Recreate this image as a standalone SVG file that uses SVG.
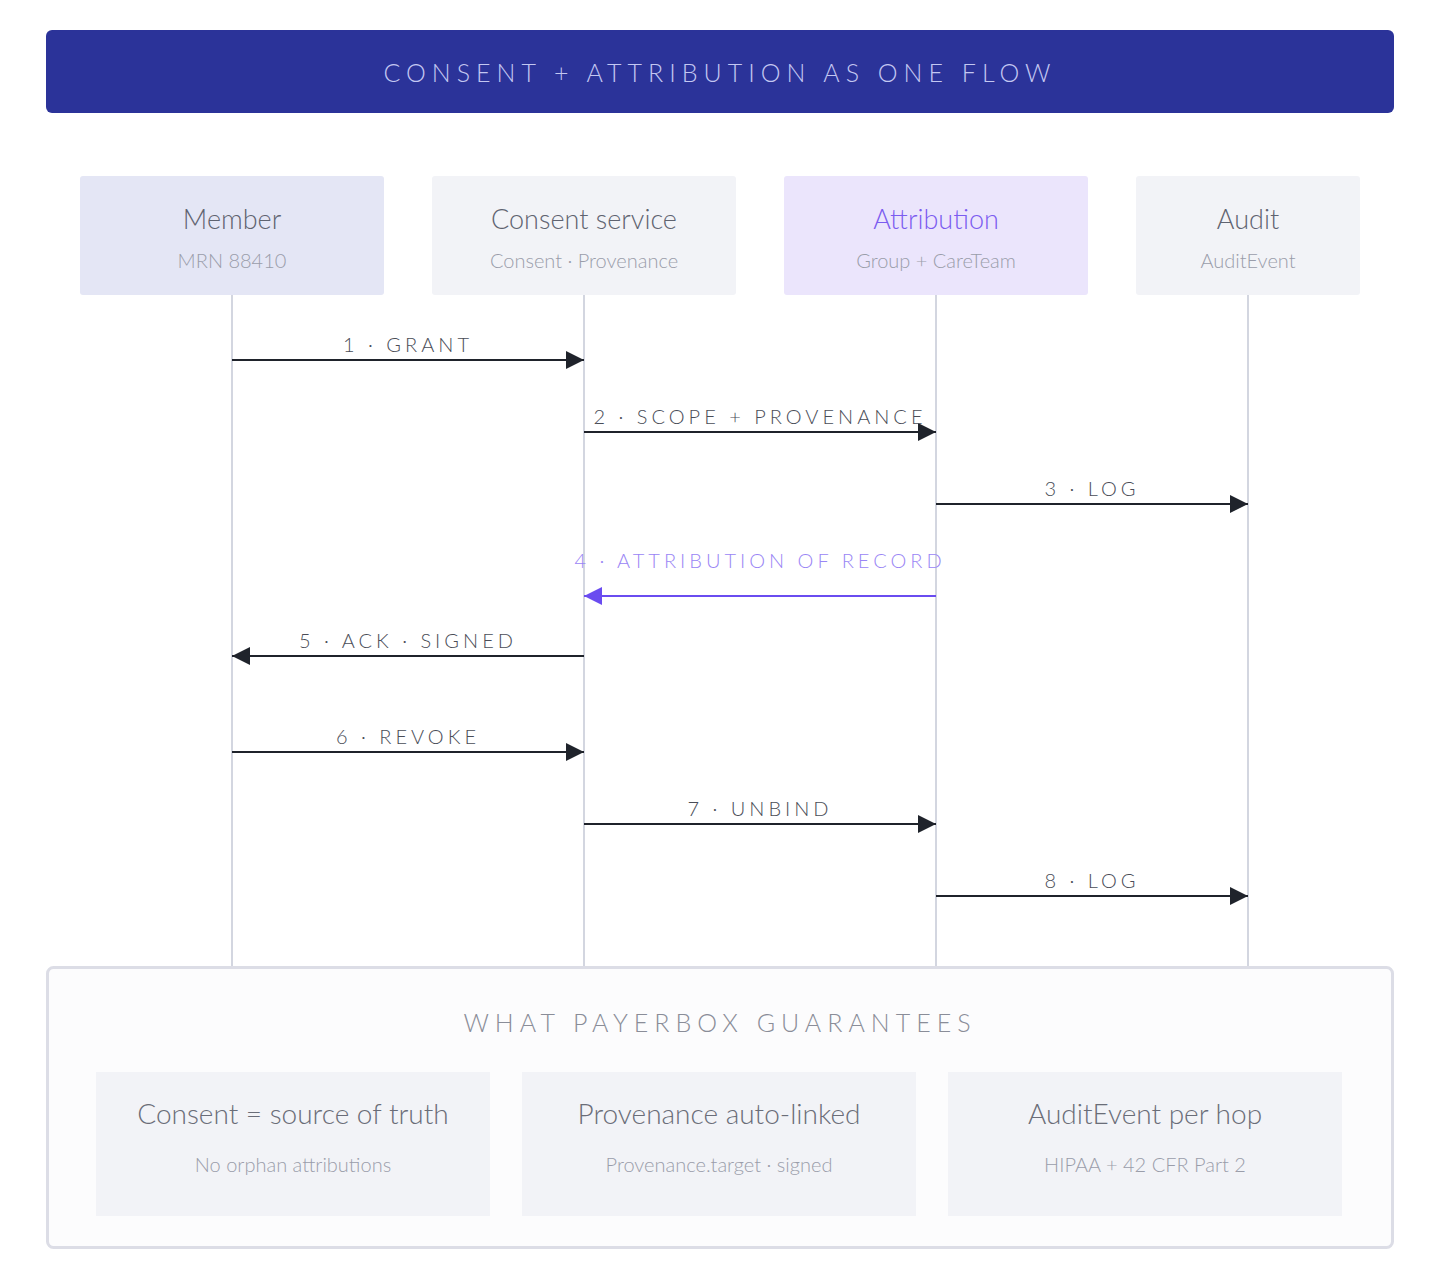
<svg xmlns="http://www.w3.org/2000/svg" width="1440" height="1280" viewBox="0 0 1440 1280">
<style>
text{font-family:Lato,"Open Sans","Liberation Sans",sans-serif;font-weight:300;text-anchor:middle}
.t{font-size:27px;fill:#5f6370}
.s{font-size:20px;fill:#9a9daa}
.m{font-size:20px;fill:#4a4d57;letter-spacing:4px}
.l{stroke:#d3d6e0;stroke-width:2}
.a{stroke:#1f232b;stroke-width:2;fill:none;marker-end:url(#ah)}
.ct{font-size:28px;fill:#6a6d78}
</style>
<defs>
<marker id="ah" markerWidth="20" markerHeight="20" refX="18" refY="9" orient="auto" markerUnits="userSpaceOnUse"><path d="M0,0 L18,9 L0,18 Z" fill="#1f232b"/></marker>
<marker id="ap" markerWidth="20" markerHeight="20" refX="18" refY="9" orient="auto" markerUnits="userSpaceOnUse"><path d="M0,0 L18,9 L0,18 Z" fill="#6a4cf0"/></marker>
</defs>
<rect width="1440" height="1280" fill="#fff"/>
<g id="title"><rect x="46" y="30" width="1348" height="83" rx="6" fill="#2b3399"/><text x="720" y="82" font-size="25" fill="#c3c7f2" letter-spacing="6">CONSENT + ATTRIBUTION AS ONE FLOW</text></g>
<g id="lifelines">
<line class="l" x1="232" y1="295" x2="232" y2="966"/><line class="l" x1="584" y1="295" x2="584" y2="966"/><line class="l" x1="936" y1="295" x2="936" y2="966"/><line class="l" x1="1248" y1="295" x2="1248" y2="966"/>
</g>
<g id="member"><rect x="80" y="176" width="304" height="119" rx="3" fill="#e4e6f5"/><text class="t" x="232" y="229">Member</text><text class="s" x="232" y="268">MRN 88410</text></g>
<g id="consent"><rect x="432" y="176" width="304" height="119" rx="3" fill="#f2f3f7"/><text class="t" x="584" y="229">Consent service</text><text class="s" x="584" y="268">Consent · Provenance</text></g>
<g id="attribution"><rect x="784" y="176" width="304" height="119" rx="3" fill="#ebe5fc"/><text class="t" x="936" y="229" fill="#7b5cf0" style="fill:#7b5cf0">Attribution</text><text class="s" x="936" y="268">Group + CareTeam</text></g>
<g id="audit"><rect x="1136" y="176" width="224" height="119" rx="3" fill="#f2f3f7"/><text class="t" x="1248" y="229">Audit</text><text class="s" x="1248" y="268">AuditEvent</text></g>
<g id="connectors">
<line class="a" x1="232" y1="360" x2="584" y2="360"/><text class="m" x="408" y="352">1 · GRANT</text>
<line class="a" x1="584" y1="432" x2="936" y2="432"/><text class="m" x="760" y="424">2 · SCOPE + PROVENANCE</text>
<line class="a" x1="936" y1="504" x2="1248" y2="504"/><text class="m" x="1092" y="496">3 · LOG</text>
<line x1="936" y1="596" x2="584" y2="596" stroke="#6a4cf0" stroke-width="2" marker-end="url(#ap)"/><text class="m" x="760" y="568" style="fill:#9a86f5">4 · ATTRIBUTION OF RECORD</text>
<line class="a" x1="584" y1="656" x2="232" y2="656"/><text class="m" x="408" y="648">5 · ACK · SIGNED</text>
<line class="a" x1="232" y1="752" x2="584" y2="752"/><text class="m" x="408" y="744">6 · REVOKE</text>
<line class="a" x1="584" y1="824" x2="936" y2="824"/><text class="m" x="760" y="816">7 · UNBIND</text>
<line class="a" x1="936" y1="896" x2="1248" y2="896"/><text class="m" x="1092" y="888">8 · LOG</text>
</g>
<g id="guarantees"><rect x="47.5" y="967.5" width="1345" height="280" rx="6" fill="#fcfcfd" stroke="#dcdde6" stroke-width="3"/><text x="720" y="1032" font-size="25" fill="#8a8d98" letter-spacing="6">WHAT PAYERBOX GUARANTEES</text></g>
<g id="card1"><rect x="96" y="1072" width="394" height="144" fill="#f2f3f7"/><text class="ct" x="293" y="1124">Consent = source of truth</text><text class="s" x="293" y="1172">No orphan attributions</text></g>
<g id="card2"><rect x="522" y="1072" width="394" height="144" fill="#f2f3f7"/><text class="ct" x="719" y="1124">Provenance auto-linked</text><text class="s" x="719" y="1172">Provenance.target · signed</text></g>
<g id="card3"><rect x="948" y="1072" width="394" height="144" fill="#f2f3f7"/><text class="ct" x="1145" y="1124">AuditEvent per hop</text><text class="s" x="1145" y="1172">HIPAA + 42 CFR Part 2</text></g>
</svg>
